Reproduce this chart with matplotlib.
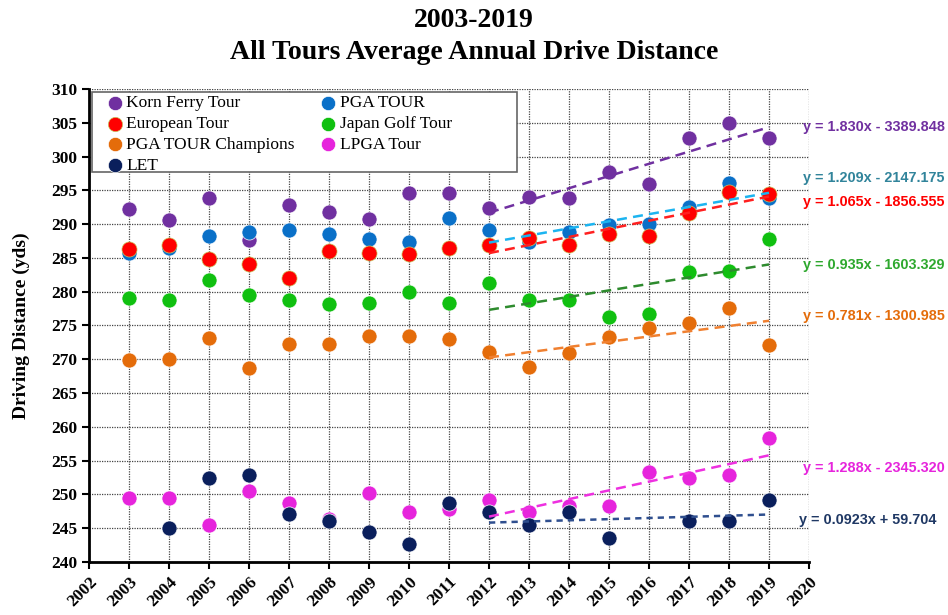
import numpy as np
import matplotlib as mpl
mpl.use("Agg")
from matplotlib import pyplot as plt
from matplotlib.patches import Rectangle

years = np.arange(2003, 2020)
korn_ferry = [292.2, 290.6, 293.9, 287.7, 292.8, 291.8, 290.7, 294.6, 294.6,
              292.4, 294.0, 293.8, 297.7, 295.9, 302.8, 304.9, 302.7]
pga_tour = [285.8, 286.4, 288.3, 288.8, 289.1, 288.5, 287.8, 287.3, 290.9,
            289.1, 287.3, 288.8, 289.9, 290.0, 292.6, 296.1, 293.8]
european = [286.3, 286.9, 284.8, 284.1, 282.1, 286.0, 285.8, 285.6, 286.4,
            286.9, 287.9, 286.9, 288.5, 288.2, 291.7, 294.7, 294.4]
japan = [279.0, 278.7, 281.7, 279.5, 278.7, 278.2, 278.4, 280.0, 278.3,
         281.3, 278.7, 278.7, 276.2, 276.7, 282.9, 283.1, 287.8]
champions = [269.9, 270.1, 273.1, 268.7, 272.2, 272.2, 273.4, 273.5, 273.0,
             271.1, 268.9, 270.9, 273.3, 274.7, 275.3, 277.6, 272.1]
lpga = [249.4, 249.4, 245.5, 250.5, 248.8, 246.4, 250.2, 247.4, 247.8,
        249.1, 247.4, 248.3, 248.3, 253.3, 252.5, 252.8, 258.3]
let = [np.nan, 245.1, 252.4, 252.9, 247.1, 246.0, 244.5, 242.7, 248.8,
       247.4, 245.4, 247.4, 243.5, np.nan, 246.0, 246.0, 249.2]

equations = ["y = 1.830x - 3389.848", "y = 1.209x - 2147.175", "y = 1.065x - 1856.555",
             "y = 0.935x - 1603.329", "y = 0.781x - 1300.985", "y = 1.288x - 2345.320",
             "y = 0.0923x + 59.704"]
trend_start = 2012

# name, data, marker colour, trend colour, equation colour, equation y, dash
series = [
    ("Korn Ferry Tour", korn_ferry, "#7030A0", "#7030A0", "#7030A0", 304.4, (4, 2.5)),
    ("PGA TOUR", pga_tour, "#0A70C8", "#1CB4F0", "#31849B", 296.9, (4, 2.5)),
    ("European Tour", european, "#FF0000", "#FF2020", "#FF0000", 293.3, (4, 2.5)),
    ("Japan Golf Tour", japan, "#10C010", "#2E8B2E", "#2EA82E", 284.0, (4, 2.5)),
    ("PGA TOUR Champions", champions, "#E46C0A", "#F08030", "#E46C0A", 276.4, (4, 2.5)),
    ("LPGA Tour", lpga, "#E624DC", "#EE30E0", "#E624DC", 253.9, (4, 2.5)),
    ("LET", let, "#0A1F5C", "#2F4F8F", "#1F3864", 246.2, (2.5, 2)),
]

fig = plt.figure(figsize=(9.48, 6.15), dpi=100)
ax = fig.add_axes([0.0939, 0.0862, 0.7595, 0.7691])

handles = {}
for i, (name, data, mc, tc, ec, ey, dash) in enumerate(series):
    data = np.array(data, dtype=float)
    edge = "#C8C860" if name == "European Tour" else "white"
    h = ax.scatter(years, data, s=118, color=mc, edgecolors=edge,
                   linewidths=0.5, zorder=3 + i * 0.1, label=name)
    handles[name] = h

for i, (name, data, mc, tc, ec, ey, dash) in enumerate(series):
    data = np.array(data, dtype=float)
    m = (years >= trend_start) & ~np.isnan(data)
    c = np.polyfit(years[m], data[m], 1)
    xx = np.array([trend_start, years[-1]])
    ax.plot(xx, np.polyval(c, xx), color=tc, lw=1.8, dashes=dash, zorder=5)
    ax.text(2019.85 if name != "LET" else 2019.75, ey, equations[i], color=ec,
            fontsize=10.4, fontweight="bold", family="Liberation Sans",
            va="center", ha="left", clip_on=False)

ax.set_xlim(2002, 2020)
ax.set_ylim(240, 310)
ax.set_xticks(np.arange(2002, 2021))
ax.set_yticks(np.arange(240, 311, 5))
ax.set_xticklabels([str(y) for y in range(2002, 2021)], rotation=45,
                   ha="right", rotation_mode="anchor")
for lab in ax.get_xticklabels() + ax.get_yticklabels():
    lab.set_family("Liberation Serif")
    lab.set_fontweight("bold")
    lab.set_fontsize(12.5)
ax.grid(True, color="#444444", linestyle=(0, (1, 1)), linewidth=0.9, zorder=0)
ax.set_axisbelow(True)
ax.spines["top"].set_visible(False)
ax.spines["right"].set_visible(False)
ax.spines["left"].set_linewidth(2)
ax.spines["bottom"].set_linewidth(2)
ax.tick_params(axis="both", direction="out", length=5, width=1.5)

ax.set_ylabel("Driving Distance (yds)", family="Liberation Serif",
              fontweight="bold", fontsize=14, labelpad=15)

# legend box
ax.add_patch(Rectangle((0.004, 0.824), 0.59, 0.17, transform=ax.transAxes,
                       facecolor="white", edgecolor="#666666", lw=1.2,
                       zorder=9, clip_on=False))
order = ["Korn Ferry Tour", "European Tour", "PGA TOUR Champions", "LET",
         "PGA TOUR", "Japan Golf Tour", "LPGA Tour"]
leg = ax.legend([handles[n] for n in order], order, ncol=2, loc="upper left",
                bbox_to_anchor=(0.014, 0.996), borderaxespad=0,
                prop={"family": "Liberation Serif", "size": 12.5},
                frameon=False, handletextpad=0.0, labelspacing=0.27,
                columnspacing=1.3, handlelength=1.3, borderpad=0.25,
                markerscale=0.95)
leg.set_zorder(10)

fig.text(0.5, 0.966, "2003-2019", ha="center", va="center",
         family="Liberation Serif", fontweight="bold", fontsize=20)
fig.text(0.5, 0.915, "All Tours Average Annual Drive Distance", ha="center",
         va="center", family="Liberation Serif", fontweight="bold", fontsize=20)

fig.savefig("out.png", dpi=100)
